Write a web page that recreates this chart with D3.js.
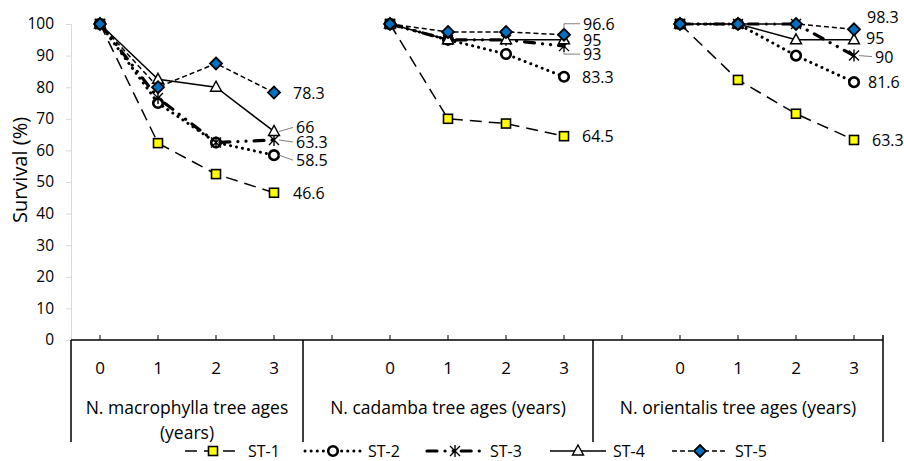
<!DOCTYPE html>
<html>
<head>
<meta charset="utf-8">
<script src="https://cdn.jsdelivr.net/npm/d3@7"></script>
<style>
  body { margin: 0; background: #fff; }
  svg text { font-family: "Open Sans", "Noto Sans", sans-serif; fill: #000; }
</style>
</head>
<body>
<div id="chart"></div>
<script>
'use strict';
// categories: each group of the multi-level axis ("" = empty slot)
const groupCategories = [["0","1","2","3"], ["","0","1","2","3"], ["","0","1","2","3"]];
const groupLabels = [["N. macrophylla tree ages","(years)"], ["N. cadamba tree ages (years)"], ["N. orientalis tree ages (years)"]];
const seriesNames = ["ST-1","ST-2","ST-3","ST-4","ST-5"];
const yTicks = [0,10,20,30,40,50,60,70,80,90,100];

// survival (%) per series, per group, for ages 0..3
const st1 = [[100,62.3,52.5,46.6],[100,70,68.5,64.5],[100,82.3,71.6,63.3]];
const st2 = [[100,75,62.5,58.5],[100,95,90.5,83.3],[100,100,90,81.6]];
const st3 = [[100,76.6,62.5,63.3],[100,95,95,93],[100,100,100,90]];
const st4 = [[100,82.5,80,66],[100,95,95,95],[100,100,95,95]];
const st5 = [[100,80,87.5,78.3],[100,97.5,97.5,96.6],[100,100,100,98.3]];
const seriesValues = [st1,st2,st3,st4,st5];

// styles per series
const styles = [
  {dash:"12,7", width:1.5, cap:"butt", marker:"square"},
  {dash:"0.1,6", width:3, cap:"round", marker:"circle"},
  {dash:"10,8,0.1,8,0.1,8", width:3.2, cap:"round", marker:"star"},
  {dash:null, width:1.5, cap:"butt", marker:"triangle"},
  {dash:"5,3", width:1.5, cap:"butt", marker:"diamond"}
];
// end-label nudges [dx, dy, leader] per group, per series
const labelNudge = [
  [[19,0,0],[22,5,1],[22,2,1],[22,-4,1],[19,0,0]],
  [[18,0,0],[18,0,0],[19,8,1],[19,0,0],[19,-11,1]],
  [[18,0,0],[14,0,0],[21,1,1],[12,-2,0],[13,-12,0]]
];

const W = 904, H = 461;
const margin = {left:71, right:21, top:24, bottom:121};

const svg = d3.select('#chart').append('svg').attr('width',W).attr('height',H);

// flatten slots
const slots = [];
groupCategories.forEach((cats,g)=>cats.forEach((c,i)=>slots.push({g, label:c, key:g+'-'+i})));

const x = d3.scaleBand().domain(slots.map(s=>s.key)).range([margin.left, W-margin.right]).padding(0);
const y = d3.scaleLinear().domain([0,100]).range([H-margin.bottom, margin.top]);
const xc = key => x(key) + x.bandwidth()/2;
const y0 = y(0);

// y axis
const yAxis = svg.append('g').attr('transform',`translate(${margin.left},0)`)
  .call(d3.axisLeft(y).tickValues(yTicks).tickSize(5).tickPadding(12));
yAxis.select('.domain').attr('stroke','#d9d9d9').attr('stroke-width',1);
yAxis.selectAll('.tick line').attr('stroke','#d9d9d9');
yAxis.selectAll('.tick text').style('font-size','15.5px').attr('font-family',null);

svg.append('text')
  .attr('transform',`translate(19,${(y(0)+y(100))/2 - 12}) rotate(-90)`)
  .attr('text-anchor','middle').attr('dominant-baseline','central')
  .style('font-size','20px').text('Survival (%)');

// x axis (multi-level)
const xAxis = svg.append('g');
xAxis.append('line').attr('x1',margin.left).attr('x2',W-margin.right).attr('y1',y0).attr('y2',y0)
  .attr('stroke','#000').attr('stroke-width',1.5);
xAxis.selectAll('.ctick').data(slots).join('line').attr('class','ctick')
  .attr('x1',d=>xc(d.key)).attr('x2',d=>xc(d.key)).attr('y1',y0).attr('y2',y0-5)
  .attr('stroke','#000').attr('stroke-width',1);
xAxis.selectAll('.clabel').data(slots.filter(s=>s.label!=='')).join('text').attr('class','clabel')
  .attr('x',d=>xc(d.key)).attr('y',y0+27).attr('text-anchor','middle').attr('dominant-baseline','central')
  .style('font-size','17px').text(d=>d.label);

// group separators and labels
const groupEdges = [];
groupCategories.forEach((cats,g)=>{
  const keys = slots.filter(s=>s.g===g).map(s=>s.key);
  groupEdges.push({g, x0:x(keys[0]), x1:x(keys[keys.length-1])+x.bandwidth()});
});
const seps = [groupEdges[0].x0, ...groupEdges.map(e=>e.x1)];
xAxis.selectAll('.sep').data(seps).join('line').attr('class','sep')
  .attr('x1',d=>d).attr('x2',d=>d).attr('y1',(d,i)=>i===seps.length-1?y0-5:y0).attr('y2',y0+102)
  .attr('stroke','#000').attr('stroke-width',1.5);
groupEdges.forEach(e=>{
  const t = xAxis.append('text').attr('x',(e.x0+e.x1)/2).attr('y',y0+67)
    .attr('text-anchor','middle').attr('dominant-baseline','central').style('font-size','17.5px');
  groupLabels[e.g].forEach((ln,i)=>t.append('tspan').attr('x',(e.x0+e.x1)/2).attr('dy',i?25:0).text(ln));
});

// marker drawing
function drawMarker(sel, type){
  if(type==='square'){
    sel.append('rect').attr('x',-4.5).attr('y',-4.5).attr('width',9).attr('height',9)
      .attr('fill','#ffff00').attr('stroke','#000').attr('stroke-width',1.6);
  } else if(type==='circle'){
    sel.append('circle').attr('r',4.8).attr('fill','#fff').attr('stroke','#000').attr('stroke-width',2.6);
  } else if(type==='star'){
    sel.append('path').attr('d','M-5,-5L5,5M-5,5L5,-5M0,-6L0,6').attr('stroke','#000').attr('stroke-width',1.4).attr('fill','none');
  } else if(type==='triangle'){
    sel.append('path').attr('d','M0,-6L5.5,4L-5.5,4Z').attr('fill','#fff').attr('stroke','#000').attr('stroke-width',1.4);
  } else if(type==='diamond'){
    sel.append('path').attr('d','M0,-6L6,0L0,6L-6,0Z').attr('fill','#0070c0').attr('stroke','#000').attr('stroke-width',1.8);
  }
}

// series lines and markers
const line = d3.line().x(d=>d[0]).y(d=>d[1]);
const plot = svg.append('g');
seriesValues.forEach((groups,si)=>{
  const st = styles[si];
  const gS = plot.append('g');
  groups.forEach((vals,g)=>{
    const keys = slots.filter(s=>s.g===g && s.label!=='').map(s=>s.key);
    const pts = vals.map((v,i)=>[xc(keys[i]), y(v)]);
    gS.append('path').attr('d',line(pts)).attr('fill','none').attr('stroke','#000')
      .attr('stroke-width',st.width).attr('stroke-linecap',st.cap)
      .attr('stroke-dasharray',st.dash);
    pts.forEach(p=>drawMarker(gS.append('g').attr('transform',`translate(${p[0]},${p[1]})`), st.marker));
  });
});

// end labels
const labels = svg.append('g');
seriesValues.forEach((groups,si)=>{
  groups.forEach((vals,g)=>{
    const keys = slots.filter(s=>s.g===g && s.label!=='').map(s=>s.key);
    const v = vals[vals.length-1];
    const px = xc(keys[keys.length-1]), py = y(v);
    const [dx,dy,leader] = labelNudge[g][si];
    const lx = px+dx, ly = py+dy;
    if(leader){
      const d = Math.abs(dy)>5 ? `M${px},${py+(dy<0?-6:6)}L${px},${ly}L${lx-3},${ly}` : `M${px+5},${py}L${lx-3},${ly}`;
      labels.append('path').attr('d',d).attr('fill','none').attr('stroke','#808080').attr('stroke-width',1);
    }
    labels.append('text').attr('x',lx).attr('y',ly).attr('dominant-baseline','central')
      .style('font-size','16px').text(v);
  });
});

// legend
const legendX = [185, 305, 427, 550, 672];
const legend = svg.append('g').attr('transform',`translate(0,${H-10})`);
seriesNames.forEach((name,si)=>{
  const st = styles[si];
  const g = legend.append('g').attr('transform',`translate(${legendX[si]},0)`);
  g.append('line').attr('x1',0).attr('x2',56).attr('stroke','#000')
    .attr('stroke-width',st.width).attr('stroke-linecap',st.cap).attr('stroke-dasharray',st.dash);
  drawMarker(g.append('g').attr('transform','translate(28,0)'), st.marker);
  g.append('text').attr('x',63).attr('dominant-baseline','central').style('font-size','16px').text(name);
});
</script>
</body>
</html>
